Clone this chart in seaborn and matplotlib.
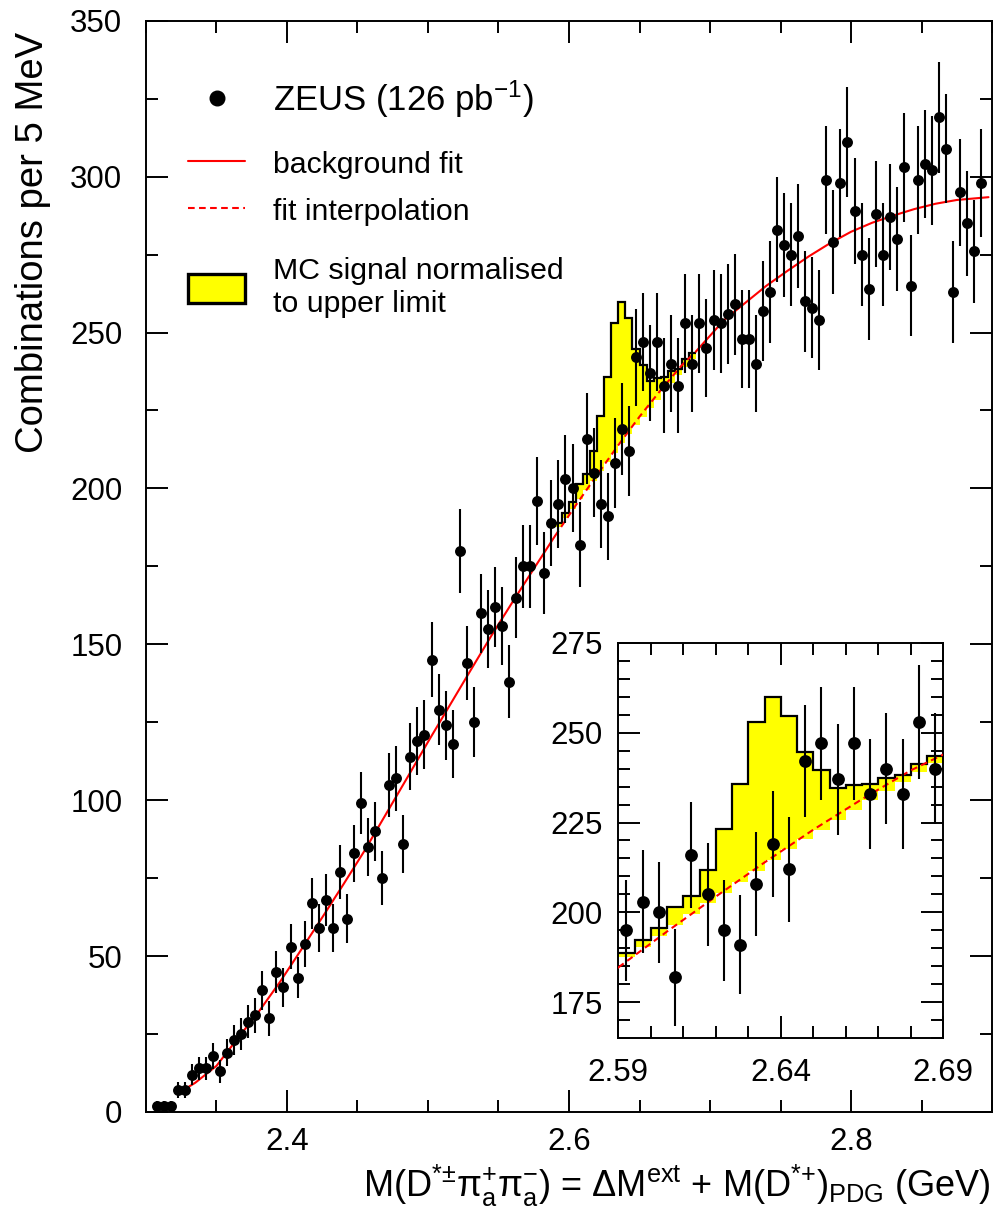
import numpy as np
import pandas as pd
import matplotlib
matplotlib.use("Agg")
import matplotlib.pyplot as plt
import seaborn as sns
from matplotlib.ticker import MultipleLocator, FixedLocator
from matplotlib.lines import Line2D
from matplotlib.patches import Patch

# ---------------- data ----------------
BIN_START = 2.305          # lower edge of the first 5 MeV bin (GeV)
BIN_WIDTH = 0.005
counts = [2, 2, 2, 7, 7, 12, 14, 14, 18, 13,
          19, 23, 25, 29, 31, 39, 30, 45, 40, 53,
          43, 54, 67, 59, 68, 59, 77, 62, 83, 99,
          85, 90, 75, 105, 107, 86, 114, 119, 121, 145,
          129, 124, 118, 180, 144, 125, 160, 155, 162, 156,
          138, 165, 175, 175, 196, 173, 189, 195, 203, 200,
          182, 216, 205, 195, 191, 208, 219, 212, 242, 247,
          237, 247, 233, 240, 233, 253, 240, 253, 245, 254,
          253, 256, 259, 248, 248, 240, 257, 263, 283, 278,
          275, 281, 260, 258, 254, 299, 279, 298, 311, 289,
          275, 264, 288, 275, 287, 280, 303, 265, 299, 304,
          302, 319, 309, 263, 295, 285, 276, 298]

# background fit curve
fit_x = [2.3225, 2.335, 2.350, 2.365, 2.380, 2.395, 2.410, 2.425, 2.440, 2.455,
         2.470, 2.485, 2.500, 2.515, 2.530, 2.545, 2.560, 2.575, 2.590, 2.605,
         2.620, 2.635, 2.650, 2.665, 2.680, 2.690, 2.710, 2.725, 2.740, 2.755,
         2.770, 2.785, 2.800, 2.815, 2.830, 2.845, 2.860, 2.875, 2.8975]
fit_y = [5.9, 9.4, 14.8, 23.6, 32.2, 41.7, 52.0, 62.4, 73.0, 83.8,
         95.4, 107.0, 118.7, 130.1, 141.5, 152.8, 163.6, 174.2, 184.7, 194.7,
         204.4, 213.9, 223.0, 231.5, 239.5, 243.9, 254.0, 259.5, 265.0, 269.8,
         274.4, 278.6, 282.3, 285.2, 287.5, 289.6, 291.3, 292.5, 293.4]
INTERP_LO, INTERP_HI = 2.59, 2.69

# MC signal (normalised to upper limit) + background, 5 MeV bins 2.590 - 2.690
mc_edges = [2.590, 2.595, 2.600, 2.605, 2.610, 2.615, 2.620, 2.625, 2.630, 2.635, 2.640,
            2.645, 2.650, 2.655, 2.660, 2.665, 2.670, 2.675, 2.680, 2.685, 2.690]
mc_total = [188.8, 192.2, 195.7, 201.4, 204.7, 211.9, 223.2, 235.8, 252.9, 259.8,
            254.6, 244.7, 239.5, 234.5, 235.4, 235.6, 237.5, 238.3, 241.4, 243.5]
mc_bkg = [187.5, 190.5, 193.5, 196.5, 199.5, 202.5, 205.5, 208.5, 211.5, 214.5,
          217.5, 220.3, 223.0, 225.8, 228.5, 231.2, 233.8, 236.4, 239.0, 241.5]

legend_labels = [r"ZEUS (126 pb$^{-1}$)", "background fit", "fit interpolation",
                 "MC signal normalised\nto upper limit"]

# ---------------- style ----------------
sns.set_theme(style="ticks")
plt.rcParams["font.family"] = ["Liberation Sans", "DejaVu Sans"]
plt.rcParams["mathtext.fontset"] = "custom"
plt.rcParams["mathtext.rm"] = "Liberation Sans"
plt.rcParams["mathtext.it"] = "Liberation Sans:italic"
plt.rcParams["mathtext.bf"] = "Liberation Sans:bold"
plt.rcParams["mathtext.default"] = "regular"
plt.rcParams["axes.linewidth"] = 1.4
for k in ["text.color", "axes.labelcolor", "xtick.color", "ytick.color",
          "xtick.labelcolor", "ytick.labelcolor", "axes.edgecolor"]:
    plt.rcParams[k] = "black"

counts_arr = np.asarray(counts, dtype=float)
centers = BIN_START + BIN_WIDTH * (np.arange(len(counts)) + 0.5)
errors = np.sqrt(counts_arr)  # Poisson uncertainties
df = pd.DataFrame({"mass": centers, "count": counts_arr, "err": errors})

fit = pd.DataFrame({"x": fit_x, "y": fit_y})
fit_lo = fit[fit.x <= INTERP_LO + 1e-9]
fit_mid = fit[(fit.x >= INTERP_LO - 1e-9) & (fit.x <= INTERP_HI + 1e-9)]
fit_hi = fit[fit.x >= INTERP_HI - 1e-9]

edges = np.asarray(mc_edges)
tot = np.asarray(mc_total)
bkg = np.asarray(mc_bkg)

DASH = (3.2, 2.1)
TICKFS = 22.5
LEGFS = 21.8


def draw(ax, marker_s):
    ax.fill_between(edges, np.r_[bkg, bkg[-1]], np.r_[tot, tot[-1]], step="post",
                    color="#ffff00", lw=0, zorder=1)
    ax.stairs(tot, edges, baseline=None, color="black", lw=1.6, zorder=2)
    sns.lineplot(data=fit_lo, x="x", y="y", ax=ax, color="red", lw=1.5,
                 sort=False, estimator=None, zorder=3)
    sns.lineplot(data=fit_hi, x="x", y="y", ax=ax, color="red", lw=1.5,
                 sort=False, estimator=None, zorder=3)
    l = ax.plot(fit_mid.x, fit_mid.y, color="red", lw=1.5, zorder=3)[0]
    l.set_dashes(DASH)
    ax.errorbar(df["mass"], df["count"], yerr=df["err"], fmt="none",
                ecolor="black", elinewidth=1.5, capsize=0, zorder=4)
    sns.scatterplot(data=df, x="mass", y="count", ax=ax, color="black",
                    s=marker_s, linewidth=0, zorder=5)
    ax.set_xlabel("")
    ax.set_ylabel("")


def style_ticks(ax, ypad, xpad):
    ax.tick_params(which="both", direction="in", top=True, right=True, width=1.4,
                   labelsize=TICKFS, colors="black")
    ax.tick_params(which="major", length=15.8)
    ax.tick_params(which="minor", length=8.4)
    ax.tick_params(axis="y", pad=ypad)
    ax.tick_params(axis="x", pad=xpad)
    for s in ax.spines.values():
        s.set_color("black")


fig = plt.figure(figsize=(9.98, 12.17), dpi=100)
ax = fig.add_axes([0.14629, 0.08628, 0.84770, 0.89671])
draw(ax, 62)
ax.set_xlim(2.30, 2.90)
ax.set_ylim(0, 350)
ax.xaxis.set_major_locator(FixedLocator([2.4, 2.6, 2.8]))
ax.xaxis.set_minor_locator(MultipleLocator(0.05))
ax.yaxis.set_major_locator(MultipleLocator(50))
ax.yaxis.set_minor_locator(MultipleLocator(25))
ax.set_xticklabels(["2.4", "2.6", "2.8"])
style_ticks(ax, 17, 11)

ax.set_ylabel("Combinations per 5 MeV", fontsize=27.5, loc="top", color="black")
ax.yaxis.set_label_coords(-0.112, 0.990)
ax.set_xlabel(r"M(D$^{{*}{\pm}}\pi^{+}_{a}\pi^{-}_{a}$) = $\Delta$M$^{ext}$ + "
              r"M(D$^{{*}{+}}$)$_{PDG}$ (GeV)",
              fontsize=26, loc="right", color="black")
ax.xaxis.set_label_coords(0.998, -0.047)

# legend (three stacked blocks to match the original row spacing)
h_data = Line2D([], [], ls="none", marker="o", color="black", markersize=10.5)
h_fit = Line2D([], [], color="red", lw=1.5)
h_int = Line2D([], [], color="red", lw=1.5, dashes=DASH)
h_mc = Patch(facecolor="#ffff00", edgecolor="black", lw=2.4)
common = dict(loc="center left", frameon=False, fontsize=LEGFS, handlelength=1.9,
              handletextpad=0.92, borderpad=0, borderaxespad=0, handleheight=1.1)
leg1 = ax.legend([h_data], legend_labels[:1], bbox_to_anchor=(0.0496, 0.9283), **common)
leg1.get_texts()[0].set_fontsize(25)
ax.add_artist(leg1)
leg2 = ax.legend([h_fit, h_int], legend_labels[1:3], bbox_to_anchor=(0.0496, 0.8472),
                 labelspacing=0.53, **common)
ax.add_artist(leg2)
leg3 = ax.legend([h_mc], legend_labels[3:], bbox_to_anchor=(0.0496, 0.7555), **common)

# inset
axi = fig.add_axes([0.61954, 0.14684, 0.32565, 0.32506])
draw(axi, 85)
axi.set_xlim(2.59, 2.69)
axi.set_ylim(165, 275)
axi.xaxis.set_major_locator(FixedLocator([2.59, 2.64, 2.69]))
axi.xaxis.set_minor_locator(MultipleLocator(0.01))
axi.yaxis.set_major_locator(MultipleLocator(25))
axi.yaxis.set_minor_locator(MultipleLocator(5))
axi.set_xticklabels(["2.59", "2.64", "2.69"])
style_ticks(axi, 11, 14)

fig.savefig("out.png", dpi=100)
